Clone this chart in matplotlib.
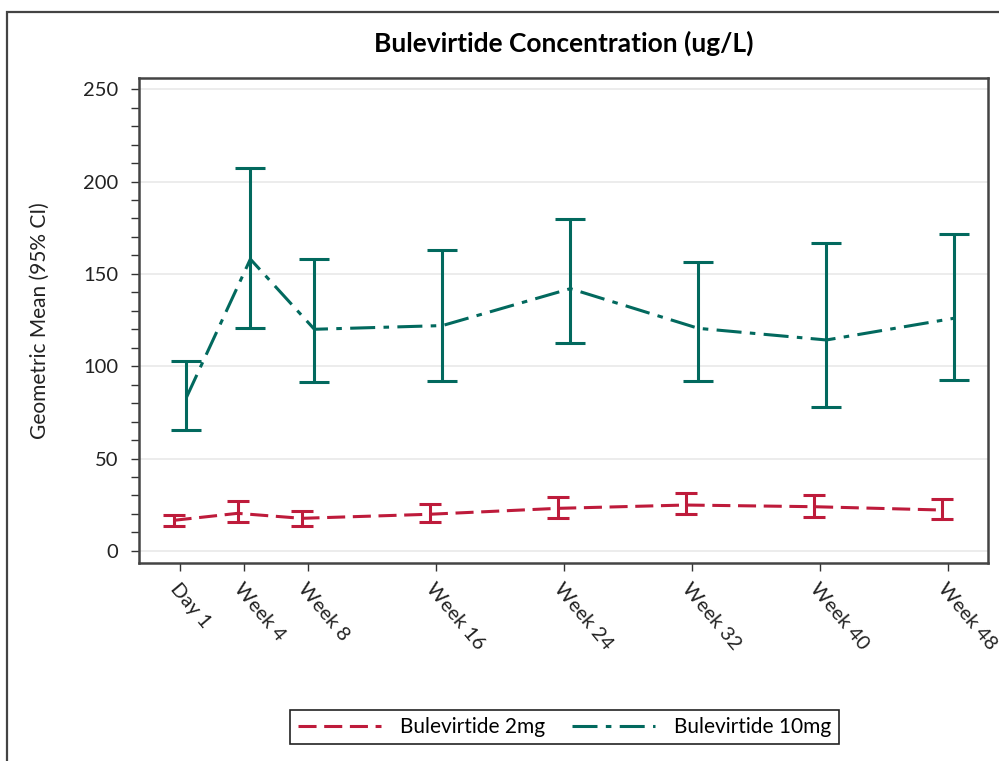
import numpy as np
import matplotlib
matplotlib.use('Agg')
import matplotlib.pyplot as plt
from matplotlib.patches import Rectangle

plt.rcParams['font.family'] = ['Lato', 'DejaVu Sans']
plt.rcParams['lines.scale_dashes'] = False

########## data ##########
visit_labels = ['Day 1', 'Week 4', 'Week 8', 'Week 16', 'Week 24', 'Week 32', 'Week 40', 'Week 48']
visit_weeks = [0, 4, 8, 16, 24, 32, 40, 48]

### Bulevirtide 2mg ###
mean_2mg = [16.5, 20.3, 17.6, 19.8, 23.0, 24.8, 23.9, 22.1]
low_2mg = [13.6, 15.8, 13.6, 15.8, 17.8, 19.9, 18.1, 17.0]
high_2mg = [19.4, 27.1, 21.7, 25.4, 29.3, 31.5, 30.2, 28.1]

### Bulevirtide 10mg ###
mean_10mg = [83.0, 158.0, 120.0, 122.0, 142.0, 120.5, 114.2, 126.0]
low_10mg = [65.4, 120.5, 91.3, 91.8, 112.4, 92.2, 78.0, 92.5]
high_10mg = [102.8, 207.5, 157.9, 163.0, 179.6, 156.6, 166.9, 171.4]

red = '#BE1B3B'
teal = '#02695E'

weeks = np.array(visit_weeks, dtype=float)
x2 = weeks - 0.4
x10 = weeks + 0.4

fig = plt.figure(figsize=(9.99, 7.61), dpi=100)
ax = fig.add_axes([139/999, 1-563/761, (988-139)/999, (563-78)/761])

########## error bars ##########
m2 = np.array(mean_2mg); m10 = np.array(mean_10mg)
ax.errorbar(x2, m2, yerr=[m2-np.array(low_2mg), np.array(high_2mg)-m2], fmt='none',
            ecolor=red, elinewidth=2.2, capsize=8, capthick=2.2, zorder=3)
ax.errorbar(x10, m10, yerr=[m10-np.array(low_10mg), np.array(high_10mg)-m10], fmt='none',
            ecolor=teal, elinewidth=2.2, capsize=11, capthick=2.2, zorder=3)

########## mean lines ##########
l2, = ax.plot(x2, m2, color=red, lw=2.2, dashes=(13, 5.5), label='Bulevirtide 2mg', zorder=4)
l10, = ax.plot(x10, m10, color=teal, lw=2.2, dashes=(18, 6, 4, 6), label='Bulevirtide 10mg', zorder=4)

ax.set_xlim(-2.56, 50.5)
ax.set_ylim(-6.6, 256.1)
ax.set_yticks([0, 50, 100, 150, 200, 250])
ax.set_yticks(np.arange(0, 251, 10), minor=True)
ax.set_xticks(visit_weeks)
ax.set_xticklabels(visit_labels, rotation=-50, ha='left', va='top', rotation_mode='anchor')
ax.tick_params(axis='both', which='both', length=6, width=1, color='#333333',
               labelsize=14.5, labelcolor='#222222')
ax.tick_params(axis='y', which='major', pad=9)
ax.tick_params(axis='x', pad=6)
ax.grid(axis='y', which='major', color='#e9e9e9', lw=1.2)
ax.set_axisbelow(True)
for sp in ax.spines.values():
    sp.set_color('#444444')
    sp.set_linewidth(1.8)

ax.set_ylabel('Geometric Mean (95% CI)', fontsize=15, color='#222222', labelpad=24)
ax.set_title('Bulevirtide Concentration (ug/L)', fontsize=19, fontweight='bold', pad=19)

leg = fig.legend(handles=[l2, l10], loc='center', bbox_to_anchor=(564.5/999, 1-727/761), ncol=2,
                 fontsize=15, frameon=True, fancybox=False, edgecolor='#222222', framealpha=1,
                 handlelength=4.0, columnspacing=1.3, borderpad=0.35, handletextpad=0.9)
leg.get_frame().set_linewidth(1.2)

### outer border ###
fig.add_artist(Rectangle((7/999, -0.1), 1.2, 1.1-12/761, transform=fig.transFigure,
                         fill=False, edgecolor='#444444', lw=1.6, clip_on=False))

fig.savefig('out.png', dpi=100)
